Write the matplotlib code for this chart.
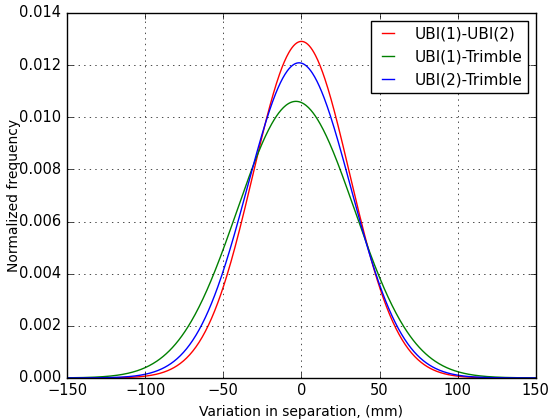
import numpy as np
from matplotlib import pyplot as plt

# Gaussian fits: (label, colour, mean mm, sigma mm)
labels = ['UBI(1)-UBI(2)', 'UBI(1)-Trimble', 'UBI(2)-Trimble']
colors = ['red', 'green', 'blue']
means = [0.0, -3.5, -1.5]
sigmas = [30.9, 37.6, 33.0]

plt.style.use('classic')
fig = plt.figure(figsize=(5.49, 4.19), dpi=100, facecolor='white')
ax = fig.add_axes([0.122, 0.098, 0.854, 0.871])

x = np.linspace(-150, 150, 601)
for lab, c, mu, s in zip(labels, colors, means, sigmas):
    pdf = np.exp(-0.5 * ((x - mu) / s) ** 2) / (s * np.sqrt(2 * np.pi))
    ax.plot(x, pdf, color=c, label=lab, linewidth=1)

ax.set_xlim(-150, 150)
ax.set_ylim(0, 0.014)
ax.set_xticks(np.arange(-150, 151, 50))
ax.set_yticks(np.arange(0, 0.0141, 0.002))
ax.yaxis.set_major_formatter(plt.FormatStrFormatter('%.3f'))
ax.tick_params(labelsize=10.5)
ax.grid(True)
ax.set_xlabel('Variation in separation, (mm)', fontsize=10)
ax.set_ylabel('Normalized frequency', fontsize=10)
ax.yaxis.set_label_coords(-0.098, 0.5)
ax.legend(loc='upper right', fontsize=11, handlelength=1.4,
          handletextpad=1.0, borderaxespad=0.5)

fig.savefig('out.png', dpi=100, facecolor='white')
